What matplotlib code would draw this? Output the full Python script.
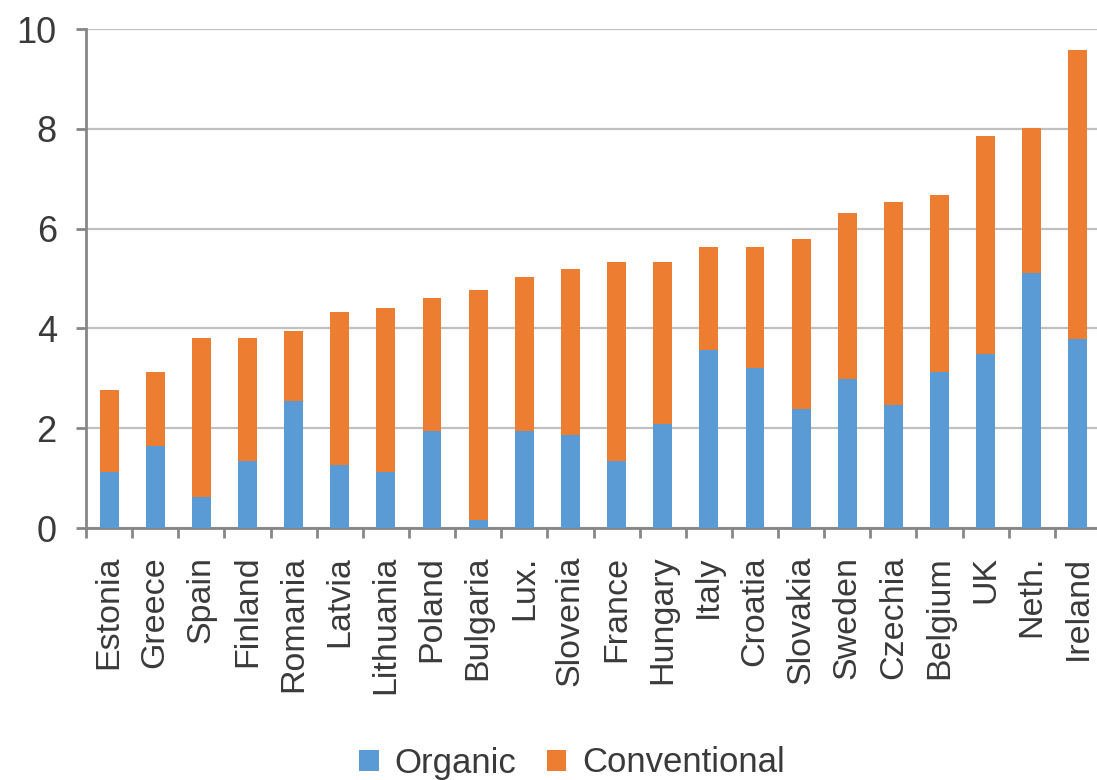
import numpy as np
import matplotlib
matplotlib.use("Agg")
import matplotlib.pyplot as plt
from matplotlib.ticker import FixedLocator

# Values
countries = ["Estonia", "Greece", "Spain", "Finland", "Romania", "Latvia",
             "Lithuania", "Poland", "Bulgaria", "Lux.", "Slovenia", "France",
             "Hungary", "Italy", "Croatia", "Slovakia", "Sweden", "Czechia",
             "Belgium", "UK", "Neth.", "Ireland"]
organic = [1.12, 1.65, 0.62, 1.35, 2.54, 1.27, 1.12, 1.94, 0.17, 1.94, 1.86,
           1.35, 2.09, 3.56, 3.20, 2.38, 2.98, 2.46, 3.13, 3.49, 5.12, 3.79]
total = [2.76, 3.13, 3.80, 3.80, 3.95, 4.32, 4.40, 4.61, 4.76, 5.04, 5.20,
         5.34, 5.34, 5.64, 5.64, 5.79, 6.31, 6.53, 6.68, 7.86, 8.01, 9.57]
conventional = [t - o for t, o in zip(total, organic)]

plt.rcParams["font.family"] = ["Liberation Sans Narrow", "Liberation Sans", "DejaVu Sans"]

BLUE = "#5B9BD5"
ORANGE = "#ED7D31"
TEXT = "#3A3A3A"

fig = plt.figure(figsize=(10.97, 7.8), dpi=100, facecolor="white")
ax = fig.add_axes([86 / 1097, 1 - 528 / 780, 1015 / 1097, 499 / 780])

x = np.arange(len(countries))
ax.bar(x, organic, width=0.41, color=BLUE, label="Organic", zorder=3)
ax.bar(x, conventional, width=0.41, bottom=organic, color=ORANGE,
       label="Conventional", zorder=3)

ax.set_xlim(-0.5, len(countries) - 0.5)
ax.set_ylim(0, 10)
ax.set_yticks([0, 2, 4, 6, 8, 10])
ax.yaxis.grid(True, color="#C0C0C0", linewidth=1.6, zorder=0)
ax.set_axisbelow(True)

# category labels at centres, tick marks between categories
ax.set_xticks(x)
ax.set_xticklabels(countries, rotation=90, va="top", ha="center")
ax.xaxis.set_minor_locator(FixedLocator(np.arange(-0.5, len(countries), 1.0)))
ax.tick_params(axis="x", which="major", length=0, pad=20, labelsize=24.5,
               labelcolor=TEXT)
ax.tick_params(axis="x", which="minor", length=7, width=2, color="#868686")
ax.tick_params(axis="y", length=7, width=2, color="#868686", pad=14,
               labelsize=26, labelcolor=TEXT)

for side in ["top", "right"]:
    ax.spines[side].set_visible(False)
for side in ["left", "bottom"]:
    ax.spines[side].set_color("#868686")
    ax.spines[side].set_linewidth(2)

fig.legend(loc="center", bbox_to_anchor=(572 / 1097, 1 - 763 / 780), ncol=2,
           frameon=False, fontsize=25, handlelength=0.55, handleheight=0.55,
           handletextpad=0.45, columnspacing=0.9, labelcolor=TEXT)

fig.savefig("out.png", dpi=100)
